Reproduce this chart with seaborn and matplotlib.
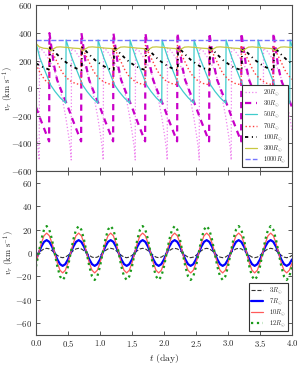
import numpy as np
import seaborn as sns
import matplotlib
matplotlib.use("Agg")
import matplotlib.pyplot as plt

# ---- TOP PANEL: radial velocity at large radii (km/s vs day) ----
t_20 = [0.00, 0.025, 0.05,
        0.055, 0.105, 0.185, 0.265, 0.345, 0.415, 0.465, 0.505, 0.535, 0.55,
        0.555, 0.605, 0.685, 0.765, 0.845, 0.915, 0.965, 1.005, 1.035, 1.05,
        1.055, 1.105, 1.185, 1.265, 1.345, 1.415, 1.465, 1.505, 1.535, 1.55,
        1.555, 1.605, 1.685, 1.765, 1.845, 1.915, 1.965, 2.005, 2.035, 2.05,
        2.055, 2.105, 2.185, 2.265, 2.345, 2.415, 2.465, 2.505, 2.535, 2.55,
        2.555, 2.605, 2.685, 2.765, 2.845, 2.915, 2.965, 3.005, 3.035, 3.05,
        3.055, 3.105, 3.185, 3.265, 3.345, 3.415, 3.465, 3.505, 3.535, 3.55,
        3.555, 3.605, 3.685, 3.765, 3.845, 3.915, 3.965, 4.00]
v_20 = [-315, -400, -520,
        290, 275, 220, 155, 55, -85, -210, -330, -430, -520,
        290, 275, 220, 155, 55, -85, -210, -330, -430, -520,
        290, 275, 220, 155, 55, -85, -210, -330, -430, -520,
        290, 275, 220, 155, 55, -85, -210, -330, -430, -520,
        290, 275, 220, 155, 55, -85, -210, -330, -430, -520,
        290, 275, 220, 155, 55, -85, -210, -330, -430, -520,
        290, 275, 220, 155, 55, -85, -210, -330, -430, -520,
        290, 275, 220, 155, 55, -85, -210, -310]

t_30 = [0.00, 0.07, 0.15, 0.205,
        0.21, 0.24, 0.28, 0.33, 0.41, 0.49, 0.57, 0.65, 0.705,
        0.71, 0.74, 0.78, 0.83, 0.91, 0.99, 1.07, 1.15, 1.205,
        1.21, 1.24, 1.28, 1.33, 1.41, 1.49, 1.57, 1.65, 1.705,
        1.71, 1.74, 1.78, 1.83, 1.91, 1.99, 2.07, 2.15, 2.205,
        2.21, 2.24, 2.28, 2.33, 2.41, 2.49, 2.57, 2.65, 2.705,
        2.71, 2.74, 2.78, 2.83, 2.91, 2.99, 3.07, 3.15, 3.205,
        3.21, 3.24, 3.28, 3.33, 3.41, 3.49, 3.57, 3.65, 3.705,
        3.71, 3.74, 3.78, 3.83, 3.91, 3.99, 4.00]
v_30 = [-137, -225, -320, -385,
        400, 300, 170, 60, -35, -125, -225, -320, -385,
        400, 300, 170, 60, -35, -125, -225, -320, -385,
        400, 300, 170, 60, -35, -125, -225, -320, -385,
        400, 300, 170, 60, -35, -125, -225, -320, -385,
        400, 300, 170, 60, -35, -125, -225, -320, -385,
        400, 300, 170, 60, -35, -125, -225, -320, -385,
        400, 300, 170, 60, -35, -125, -225, -320, -385,
        400, 300, 170, 60, -35, -125, -137]

t_50 = [0.00, 0.06, 0.12, 0.18, 0.23, 0.30, 0.38, 0.465,
        0.47, 0.51, 0.56, 0.62, 0.68, 0.73, 0.80, 0.88, 0.965,
        0.97, 1.01, 1.06, 1.12, 1.18, 1.23, 1.30, 1.38, 1.465,
        1.47, 1.51, 1.56, 1.62, 1.68, 1.73, 1.80, 1.88, 1.965,
        1.97, 2.01, 2.06, 2.12, 2.18, 2.23, 2.30, 2.38, 2.465,
        2.47, 2.51, 2.56, 2.62, 2.68, 2.73, 2.80, 2.88, 2.965,
        2.97, 3.01, 3.06, 3.12, 3.18, 3.23, 3.30, 3.38, 3.465,
        3.47, 3.51, 3.56, 3.62, 3.68, 3.73, 3.80, 3.88, 3.965,
        3.97, 4.00]
v_50 = [330, 220, 150, 80, 22, -25, -70, -108,
        350, 290, 220, 150, 80, 22, -25, -70, -108,
        350, 290, 220, 150, 80, 22, -25, -70, -108,
        350, 290, 220, 150, 80, 22, -25, -70, -108,
        350, 290, 220, 150, 80, 22, -25, -70, -108,
        350, 290, 220, 150, 80, 22, -25, -70, -108,
        350, 290, 220, 150, 80, 22, -25, -70, -108,
        350, 290, 220, 150, 80, 22, -25, -70, -108,
        350, 305]

t_70 = [0.00, 0.05, 0.10, 0.15, 0.205,
        0.21, 0.24, 0.29, 0.34, 0.39, 0.44, 0.52, 0.61, 0.705,
        0.71, 0.74, 0.79, 0.84, 0.89, 0.94, 1.02, 1.11, 1.205,
        1.21, 1.24, 1.29, 1.34, 1.39, 1.44, 1.52, 1.61, 1.705,
        1.71, 1.74, 1.79, 1.84, 1.89, 1.94, 2.02, 2.11, 2.205,
        2.21, 2.24, 2.29, 2.34, 2.39, 2.44, 2.52, 2.61, 2.705,
        2.71, 2.74, 2.79, 2.84, 2.89, 2.94, 3.02, 3.11, 3.205,
        3.21, 3.24, 3.29, 3.34, 3.39, 3.44, 3.52, 3.61, 3.705,
        3.71, 3.74, 3.79, 3.84, 3.89, 3.94, 4.00]
v_70 = [175, 125, 85, 55, 35,
        310, 276, 228, 180, 131, 95, 58, 35, 25,
        310, 276, 228, 180, 131, 95, 58, 35, 25,
        310, 276, 228, 180, 131, 95, 58, 35, 25,
        310, 276, 228, 180, 131, 95, 58, 35, 25,
        310, 276, 228, 180, 131, 95, 58, 35, 25,
        310, 276, 228, 180, 131, 95, 58, 35, 25,
        310, 276, 228, 180, 131, 95, 58, 35, 25,
        310, 276, 228, 180, 131, 95, 65]

t_100 = [0.00, 0.10, 0.215,
         0.22, 0.25, 0.32, 0.42, 0.50, 0.57, 0.64, 0.715,
         0.72, 0.75, 0.82, 0.92, 1.00, 1.07, 1.14, 1.215,
         1.22, 1.25, 1.32, 1.42, 1.50, 1.57, 1.64, 1.715,
         1.72, 1.75, 1.82, 1.92, 2.00, 2.07, 2.14, 2.215,
         2.22, 2.25, 2.32, 2.42, 2.50, 2.57, 2.64, 2.715,
         2.72, 2.75, 2.82, 2.92, 3.00, 3.07, 3.14, 3.215,
         3.22, 3.25, 3.32, 3.42, 3.50, 3.57, 3.64, 3.715,
         3.72, 3.75, 3.82, 3.92, 4.00]
v_100 = [180, 155, 133,
         295, 285, 250, 205, 178, 157, 142, 132,
         295, 285, 250, 205, 178, 157, 142, 132,
         295, 285, 250, 205, 178, 157, 142, 132,
         295, 285, 250, 205, 178, 157, 142, 132,
         295, 285, 250, 205, 178, 157, 142, 132,
         295, 285, 250, 205, 178, 157, 142, 132,
         295, 285, 250, 205, 178, 157, 142, 132,
         295, 285, 250, 205, 180]

t_300 = [0.00, 0.05, 0.12, 0.18,
         0.23, 0.27, 0.32, 0.38, 0.48, 0.58, 0.68,
         0.73, 0.77, 0.82, 0.88, 0.98, 1.08, 1.18,
         1.23, 1.27, 1.32, 1.38, 1.48, 1.58, 1.68,
         1.73, 1.77, 1.82, 1.88, 1.98, 2.08, 2.18,
         2.23, 2.27, 2.32, 2.38, 2.48, 2.58, 2.68,
         2.73, 2.77, 2.82, 2.88, 2.98, 3.08, 3.18,
         3.23, 3.27, 3.32, 3.38, 3.48, 3.58, 3.68,
         3.73, 3.77, 3.82, 3.88, 3.98, 4.00]
v_300 = [325, 300, 290, 288,
         272, 285, 298, 300, 296, 291, 288,
         272, 285, 298, 300, 296, 291, 288,
         272, 285, 298, 300, 296, 291, 288,
         272, 285, 298, 300, 296, 291, 288,
         272, 285, 298, 300, 296, 291, 288,
         272, 285, 298, 300, 296, 291, 288,
         272, 285, 298, 300, 296, 291, 288,
         272, 285, 298, 300, 296, 295]

t_1000 = [0.0, 4.0]
v_1000 = [352, 352]

# ---- BOTTOM PANEL: near the star, sampled every 1/24 day ----
t_near = np.linspace(0, 4, 97)
v_3 = [-2, 0, 2, 3.5, 4, 3.5, 2, 0, -2, -3.5, -4, -3.5,
       -2, 0, 2, 3.5, 4, 3.5, 2, 0, -2, -3.5, -4, -3.5,
       -2, 0, 2, 3.5, 4, 3.5, 2, 0, -2, -3.5, -4, -3.5,
       -2, 0, 2, 3.5, 4, 3.5, 2, 0, -2, -3.5, -4, -3.5,
       -2, 0, 2, 3.5, 4, 3.5, 2, 0, -2, -3.5, -4, -3.5,
       -2, 0, 2, 3.5, 4, 3.5, 2, 0, -2, -3.5, -4, -3.5,
       -2, 0, 2, 3.5, 4, 3.5, 2, 0, -2, -3.5, -4, -3.5,
       -2, 0, 2, 3.5, 4, 3.5, 2, 0, -2, -3.5, -4, -3.5,
       -2]
v_7 = [-5.5, 0, 5.5, 9.5, 11, 9.5, 5.5, 0, -5.5, -9.5, -11, -9.5,
       -5.5, 0, 5.5, 9.5, 11, 9.5, 5.5, 0, -5.5, -9.5, -11, -9.5,
       -5.5, 0, 5.5, 9.5, 11, 9.5, 5.5, 0, -5.5, -9.5, -11, -9.5,
       -5.5, 0, 5.5, 9.5, 11, 9.5, 5.5, 0, -5.5, -9.5, -11, -9.5,
       -5.5, 0, 5.5, 9.5, 11, 9.5, 5.5, 0, -5.5, -9.5, -11, -9.5,
       -5.5, 0, 5.5, 9.5, 11, 9.5, 5.5, 0, -5.5, -9.5, -11, -9.5,
       -5.5, 0, 5.5, 9.5, 11, 9.5, 5.5, 0, -5.5, -9.5, -11, -9.5,
       -5.5, 0, 5.5, 9.5, 11, 9.5, 5.5, 0, -5.5, -9.5, -11, -9.5,
       -5.5]
v_10 = [-8.5, 0, 8.5, 14.7, 17, 14.7, 8.5, 0, -8.5, -14.7, -17, -14.7,
        -8.5, 0, 8.5, 14.7, 17, 14.7, 8.5, 0, -8.5, -14.7, -17, -14.7,
        -8.5, 0, 8.5, 14.7, 17, 14.7, 8.5, 0, -8.5, -14.7, -17, -14.7,
        -8.5, 0, 8.5, 14.7, 17, 14.7, 8.5, 0, -8.5, -14.7, -17, -14.7,
        -8.5, 0, 8.5, 14.7, 17, 14.7, 8.5, 0, -8.5, -14.7, -17, -14.7,
        -8.5, 0, 8.5, 14.7, 17, 14.7, 8.5, 0, -8.5, -14.7, -17, -14.7,
        -8.5, 0, 8.5, 14.7, 17, 14.7, 8.5, 0, -8.5, -14.7, -17, -14.7,
        -8.5, 0, 8.5, 14.7, 17, 14.7, 8.5, 0, -8.5, -14.7, -17, -14.7,
        -8.5]
v_12 = [-11.5, 0, 11.5, 19.9, 23, 19.9, 11.5, 0, -11.5, -19.9, -23, -19.9,
        -11.5, 0, 11.5, 19.9, 23, 19.9, 11.5, 0, -11.5, -19.9, -23, -19.9,
        -11.5, 0, 11.5, 19.9, 23, 19.9, 11.5, 0, -11.5, -19.9, -23, -19.9,
        -11.5, 0, 11.5, 19.9, 23, 19.9, 11.5, 0, -11.5, -19.9, -23, -19.9,
        -11.5, 0, 11.5, 19.9, 23, 19.9, 11.5, 0, -11.5, -19.9, -23, -19.9,
        -11.5, 0, 11.5, 19.9, 23, 19.9, 11.5, 0, -11.5, -19.9, -23, -19.9,
        -11.5, 0, 11.5, 19.9, 23, 19.9, 11.5, 0, -11.5, -19.9, -23, -19.9,
        -11.5, 0, 11.5, 19.9, 23, 19.9, 11.5, 0, -11.5, -19.9, -23, -19.9,
        -11.5]


def draw(ax, t, v, label, **kws):
    # keep point order as given, so the shock jumps stay vertical
    sns.lineplot(x=t, y=v, ax=ax, estimator=None, sort=False, label=label, **kws)


def style_axes(ax):
    ax.tick_params(direction="in", top=True, right=True, length=3, width=0.6,
                   labelsize=6.3, pad=2.5, color="0.25")
    for sp in ax.spines.values():
        sp.set_color("0.3")
        sp.set_linewidth(0.8)


def main():
    sns.set_style("ticks")
    plt.rcParams["font.family"] = "serif"
    plt.rcParams["font.serif"] = ["cmr10"]
    plt.rcParams["mathtext.fontset"] = "cm"
    plt.rcParams["axes.formatter.use_mathtext"] = True

    fig = plt.figure(figsize=(2.99, 3.69), dpi=100)
    ax1 = fig.add_axes([0.1204, 0.5366, 0.8562, 0.4485])
    ax2 = fig.add_axes([0.1204, 0.0921, 0.8562, 0.4445], sharex=ax1)

    draw(ax1, t_20, v_20, r"$20R_{\odot}$", color="violet", linestyle=":", linewidth=0.9)
    draw(ax1, t_30, v_30, r"$30R_{\odot}$", color="#c800c8",
         linestyle=(0, (2.8, 2.2)), linewidth=1.6)
    draw(ax1, t_50, v_50, r"$50R_{\odot}$", color="#40cccc", linestyle="-", linewidth=0.9)
    draw(ax1, t_70, v_70, r"$70R_{\odot}$", color="#ff3c3c", linestyle=":", linewidth=1.0)
    draw(ax1, t_100, v_100, r"$100R_{\odot}$", color="black",
         linestyle=(0, (1.8, 2.0, 0.6, 2.0)), linewidth=1.3)
    draw(ax1, t_300, v_300, r"$300R_{\odot}$", color="#c8c840", linestyle="-", linewidth=0.9)
    draw(ax1, t_1000, v_1000, r"$1000R_{\odot}$", color="#7474ff", linestyle="--", linewidth=1.0)

    draw(ax2, t_near, v_3, r"$3R_{\odot}$", color="0.2", linestyle="--", linewidth=0.8)
    draw(ax2, t_near, v_7, r"$7R_{\odot}$", color="#0000ff", linestyle="-", linewidth=1.6)
    draw(ax2, t_near, v_10, r"$10R_{\odot}$", color="#ff5a5a", linestyle="-", linewidth=0.9)
    draw(ax2, t_near, v_12, r"$12R_{\odot}$", color="#1a9a1a", linestyle=":", linewidth=1.6)

    ax1.set_xlim(0, 4)
    ax1.set_ylim(-600, 600)
    ax1.set_yticks(np.arange(-600, 601, 200))
    ax1.set_xticks(np.arange(0, 4.01, 0.5))
    ax1.tick_params(labelbottom=False)
    ax2.set_ylim(-70, 70)
    ax2.set_yticks(np.arange(-60, 61, 20))

    ax1.set_ylabel(r"$v_r$ (km s$^{-1}$)", fontsize=6.2)
    ax2.set_ylabel(r"$v_r$ (km s$^{-1}$)", fontsize=6.2)
    ax1.yaxis.set_label_coords(-0.08, 0.5)
    ax2.yaxis.set_label_coords(-0.075, 0.5)
    ax2.set_xlabel(r"$t$ (day)", fontsize=7, labelpad=2)
    ax1.set_xlabel("")

    for ax in (ax1, ax2):
        style_axes(ax)
        leg = ax.legend(loc="lower right", fontsize=4.7, frameon=True, fancybox=False,
                        framealpha=1, edgecolor="0.2", handlelength=1.9,
                        handletextpad=0.9, labelspacing=0.1, borderpad=0.35,
                        borderaxespad=0.55)
        leg.get_frame().set_linewidth(0.8)

    fig.savefig("out.png", dpi=100)


if __name__ == "__main__":
    main()
